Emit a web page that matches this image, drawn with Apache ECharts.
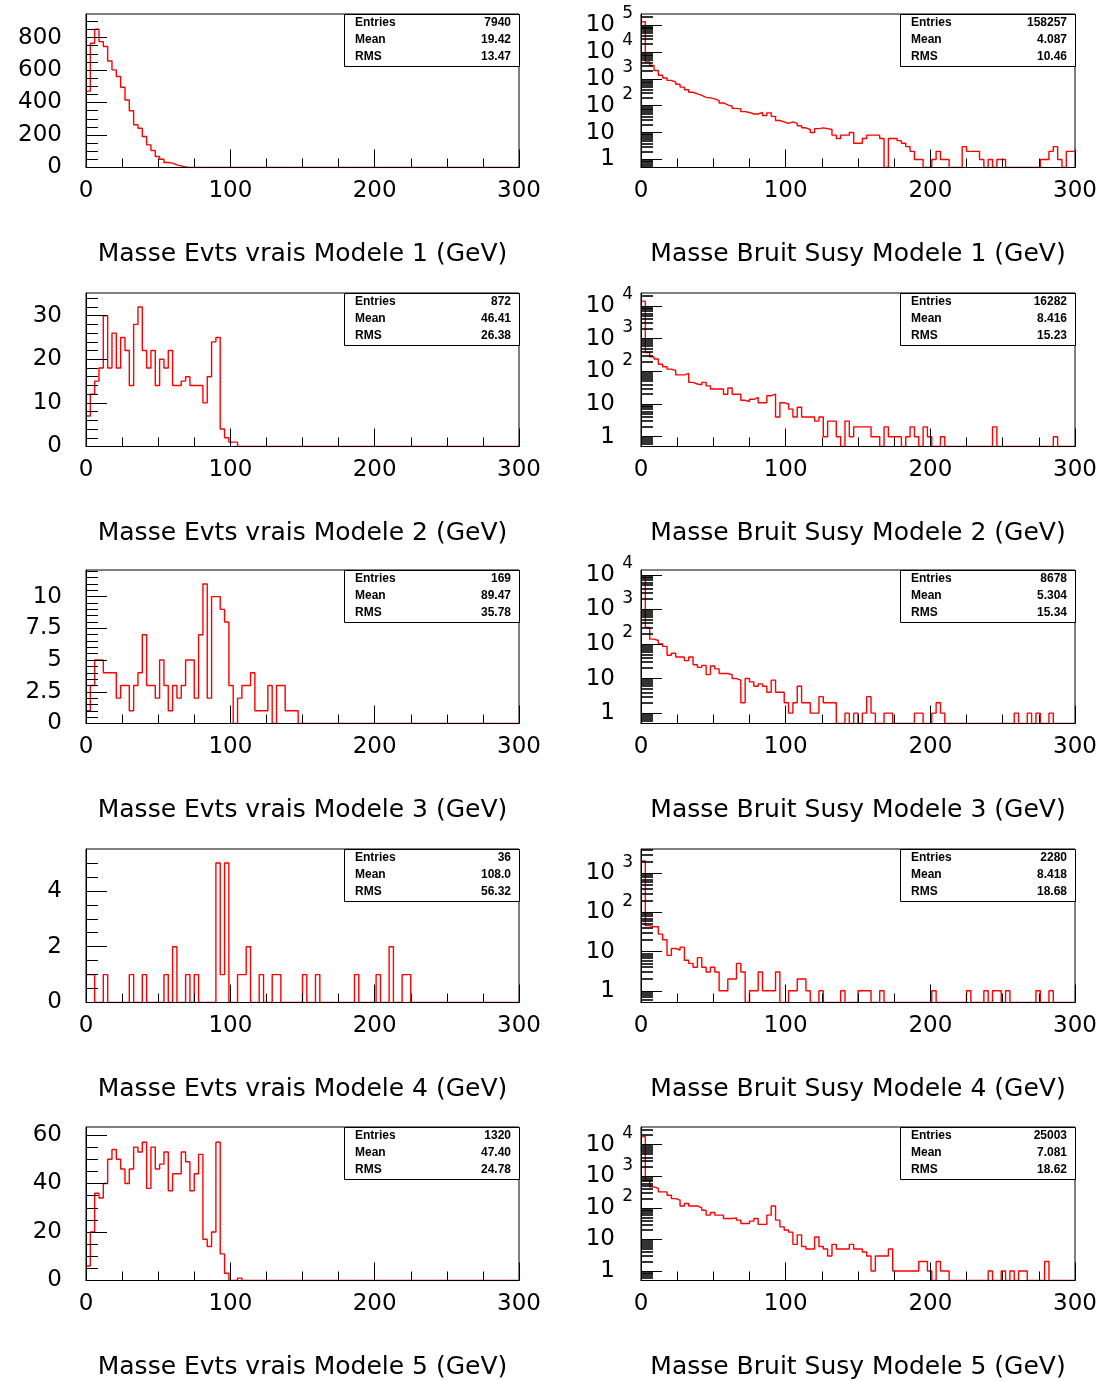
<!DOCTYPE html>
<html><head><meta charset="utf-8">
<script src="https://cdn.jsdelivr.net/npm/echarts@6/dist/echarts.min.js"></script>
<style>html,body{margin:0;padding:0;background:#fff}#c{width:1112px;height:1381px}</style>
</head><body><div id="c"></div>
<script>
// ---------------- DATA (100 bins of 3 GeV, 0..300 GeV) ----------------
const evts1 = [
 470,765,851,775,745,656,601,560,494,416,
 349,263,242,191,139,105,68,51,31,27,
 16,10,3,0,0,0,0,0,0,0,
 0,0,0,0,0,0,0,0,0,0, 0,0,0,0,0,0,0,0,0,0, 0,0,0,0,0,0,0,0,0,0,
 0,0,0,0,0,0,0,0,0,0, 0,0,0,0,0,0,0,0,0,0, 0,0,0,0,0,0,0,0,0,0, 0,0,0,0,0,0,0,0,0,0];
const evts2 = [
 7,12,15,18,30,18,26,18,25,22,
 14,28,32,22,18,22,14,20,18,22,
 14,14,15,16,14,14,14,10,16,24,
 25,4,2,1,1,0,0,0,0,0,
 0,0,0,0,0,0,0,0,0,0, 0,0,0,0,0,0,0,0,0,0, 0,0,0,0,0,0,0,0,0,0,
 0,0,0,0,0,0,0,0,0,0, 0,0,0,0,0,0,0,0,0,0, 0,0,0,0,0,0,0,0,0,0];
const evts3 = [
 1,3,5,5,4,4,4,2,3,3,
 1,3,4,7,3,3,2,5,3,1,
 3,2,3,5,5,2,7,11,2,10,
 10,9,8,3,0,2,3,3,4,1,
 1,1,3,0,3,3,1,1,1,0,
 0,0,0,0,0,0,0,0,0,0, 0,0,0,0,0,0,0,0,0,0, 0,0,0,0,0,0,0,0,0,0,
 0,0,0,0,0,0,0,0,0,0, 0,0,0,0,0,0,0,0,0,0];
const evts4 = [
 1,1,0,0,1,0,0,0,0,0,
 1,0,0,1,0,0,0,0,1,0,
 2,0,0,1,0,1,0,0,0,0,
 5,1,5,0,0,1,1,2,0,0,
 1,0,0,1,1,0,0,0,0,0,
 1,0,0,1,0,0,0,0,0,0,
 0,0,1,0,0,0,0,1,0,0,
 2,0,0,1,1,0,0,0,0,0,
 0,0,0,0,0,0,0,0,0,0, 0,0,0,0,0,0,0,0,0,0];
const evts5 = [
 6,20,36,34,40,50,54,50,46,40,
 46,55,53,57,38,55,46,48,53,37,
 44,44,53,49,37,44,52,17,14,20,
 57,11,3,0,0,1,0,0,0,0,
 0,0,0,0,0,0,0,0,0,0, 0,0,0,0,0,0,0,0,0,0, 0,0,0,0,0,0,0,0,0,0,
 0,0,0,0,0,0,0,0,0,0, 0,0,0,0,0,0,0,0,0,0, 0,0,0,0,0,0,0,0,0,0];

const bruit1 = [
 132000,4270,3160,2040,1350,1070,870,760,630,490,
 390,316,275,240,204,195,178,155,126,107,
 95,79,76,60,56,49,49,56,43,54,
 40,28,25,22,25,22,18,15,13,10,
 14,15,14,13,8,6,8,8,10,4,
 4,6,8,8,8,6,0,6,6,5,
 4,3,2,1,1,0,0,1,2,1,
 1,0,0,0,3,2,2,2,1,0,
 1,0,1,1,0,0,0,0,0,0,
 0,0,1,1,2,3,1,0,2,2];
const bruit2 = [
 14200,380,280,240,166,138,117,105,78,78,
 87,46,41,39,46,36,29,29,29,20,
 31,20,20,13,12,14,16,11,11,18,
 20,4,11,10,7,4,8,4,4,4,
 3,4,1,3,3,1,0,3,1,2,
 2,2,2,1,1,0,2,1,1,1,
 0,1,2,1,0,2,1,0,0,1,
 0,0,0,0,0,0,0,0,0,0,
 0,2,0,0,0,0,0,0,0,0,
 0,0,0,0,0,1,0,0,0,0];
const bruit3 = [
 8500,300,138,126,100,85,47,54,42,42,
 33,42,25,21,24,13,23,19,14,14,
 13,10,9,2,10,8,6,7,6,4,
 9,4,4,2,1,2,6,2,2,1,
 1,3,2,2,2,0,0,1,0,1,
 0,1,3,1,0,0,1,1,0,0,
 0,0,0,1,1,0,0,1,2,1,
 0,0,0,0,0,0,0,0,0,0,
 0,0,0,0,0,0,1,0,0,1,
 0,1,0,0,1,0,0,0,0,0];
const bruit4 = [
 2050,46,43,43,28,20,8,12,11,13,
 6,5,4,7,4,3,4,3,1,1,
 2,2,5,3,0,1,1,3,1,1,
 1,3,0,0,1,1,2,2,1,0,
 0,1,0,0,0,0,1,0,0,0,
 1,1,1,0,0,1,0,0,0,0,
 0,0,0,0,0,0,0,1,0,0,
 0,0,0,0,0,1,0,0,0,1,
 0,1,1,0,1,0,0,0,0,0,
 0,1,0,0,1,0,0,0,0,0];
const bruit5 = [
 18000,740,460,410,320,320,250,196,175,115,
 137,115,115,100,84,59,71,59,59,46,
 46,48,41,32,32,38,46,30,30,59,
 115,41,25,20,17,7,14,6,5,5,
 12,6,5,3,7,5,5,5,7,5,
 5,4,3,1,3,3,3,5,1,1,
 1,1,1,1,2,2,1,0,2,1,
 1,0,0,0,0,0,0,0,0,0,
 1,0,0,1,0,1,0,1,1,0,
 0,0,0,2,0,0,0,0,0,0];

const titlesEvts = ['Masse Evts vrais Modele 1 (GeV)','Masse Evts vrais Modele 2 (GeV)','Masse Evts vrais Modele 3 (GeV)','Masse Evts vrais Modele 4 (GeV)','Masse Evts vrais Modele 5 (GeV)'];
const titlesBruit = ['Masse Bruit Susy Modele 1 (GeV)','Masse Bruit Susy Modele 2 (GeV)','Masse Bruit Susy Modele 3 (GeV)','Masse Bruit Susy Modele 4 (GeV)','Masse Bruit Susy Modele 5 (GeV)'];
const statsEvts = [['7940','19.42','13.47'],['872','46.41','26.38'],['169','89.47','35.78'],['36','108.0','56.32'],['1320','47.40','24.78']];
const statsBruit = [['158257','4.087','10.46'],['16282','8.416','15.23'],['8678','5.304','15.34'],['2280','8.418','18.68'],['25003','7.081','18.62']];
const statNames = ['Entries','Mean','RMS'];

const xTicksMajor = [0, 100, 200, 300];
const linMajorTicks = [[0,200,400,600,800],[0,10,20,30],[0,2.5,5,7.5,10],[0,2,4],[0,20,40,60]];
const linMinorStep = [50, 2, 0.5, 0.5, 5];
const linMax = [945, 35.2, 12.1, 5.5, 63.3];
const logMax = [5.41, 4.40, 4.14, 3.62, 4.56]; // log10 of axis top
const LOG_MIN = -0.3;                          // log10(0.5)
const BIN_W = 3;

// ---------------- LAYOUT ----------------
const FONT = "'DejaVu Sans', sans-serif";
const STAT_FONT = "'Liberation Sans', sans-serif";
const COL_X = [86, 641], COL_W = [433, 434];
const ROW_TOP = [14, 293, 570, 849, 1127], PLOT_H = 153.5;

const evts = [evts1, evts2, evts3, evts4, evts5];
const bruit = [bruit1, bruit2, bruit3, bruit4, bruit5];

const grids = [], xAxes = [], yAxes = [], series = [], graphics = [], logPanels = [];

function histPoints(vals, tf) {
  const pts = vals.map((v, i) => [i * BIN_W, tf(v)]);
  pts.push([vals.length * BIN_W, tf(vals[vals.length - 1])]);
  return pts;
}
const black = { color: '#000', width: 1 };

function addPanel(col, row, title, stats, isLog, vals) {
  const gi = grids.length;
  const left = COL_X[col], width = COL_W[col], top = ROW_TOP[row];
  grids.push({ left, top, width, height: PLOT_H, show: true, borderColor: '#000', borderWidth: 1, backgroundColor: 'transparent' });
  xAxes.push({
    gridIndex: gi, type: 'value', min: 0, max: 300, interval: 100, position: 'bottom', z: 5,
    axisLine: { show: true, onZero: false, lineStyle: black },
    axisTick: { show: true, inside: true, length: 18, lineStyle: black },
    minorTick: { show: true, splitNumber: 4, length: 9, lineStyle: black },
    splitLine: { show: false },
    axisLabel: { customValues: xTicksMajor, margin: 12, fontSize: 23, fontFamily: FONT, color: '#000' },
    name: title, nameLocation: 'middle', nameGap: 74,
    nameTextStyle: { fontSize: 25, fontFamily: FONT, color: '#000' }
  });
  let min, max, majors, minors, labelCfg, minorWidth = 1;
  if (isLog) {
    min = LOG_MIN; max = logMax[row];
    majors = []; for (let k = 0; k <= Math.floor(max); k++) majors.push(k);
    minors = [];
    for (let k = -1; k <= Math.ceil(max); k++) for (let m = 2; m <= 9; m++) {
      const v = k + Math.log10(m); if (v > min && v < max) minors.push(v);
    }
    labelCfg = {
      customValues: majors, margin: 26, showMinLabel: true, showMaxLabel: true, hideOverlap: false,
      fontSize: 23, lineHeight: 14, fontFamily: FONT, color: '#000',
      formatter: v => (Math.round(v) === 0 ? '1' : '10')
    };
    minorWidth = 1.6;
    logPanels.push({ gi, left, majors });
  } else {
    min = 0; max = linMax[row]; majors = linMajorTicks[row];
    minors = []; const st = linMinorStep[row];
    for (let j = 1; j * st < max; j++) minors.push(+(j * st).toFixed(4));
    labelCfg = { customValues: majors, margin: 24, fontSize: 23, lineHeight: 16, fontFamily: FONT, color: '#000', showMinLabel: true, showMaxLabel: true, hideOverlap: false };
  }
  const yMain = yAxes.length;
  yAxes.push({
    gridIndex: gi, type: 'value', min, max, position: 'left', z: 5,
    axisLine: { show: true, onZero: false, lineStyle: black },
    axisTick: { show: true, inside: true, length: 21, customValues: majors, lineStyle: black },
    splitLine: { show: false },
    axisLabel: labelCfg
  });
  yAxes.push({
    gridIndex: gi, type: 'value', min, max, position: 'left', z: 5,
    axisLine: { show: false, onZero: false },
    axisTick: { show: true, inside: true, length: 12, customValues: minors, lineStyle: { color: '#000', width: minorWidth } },
    splitLine: { show: false },
    axisLabel: { show: false }
  });
  const tf = isLog ? (v => v > 0 ? Math.log10(v) : LOG_MIN) : (v => v);
  series.push({
    type: 'line', xAxisIndex: gi, yAxisIndex: yMain, step: 'end', symbol: 'none', showSymbol: false,
    data: histPoints(vals, tf), lineStyle: { color: '#ff0000', width: 1.4 }, z: 2, animation: false, silent: true
  });
  // statistics box
  const bw = 175, bh = 52, bx = left + width - bw, by = top;
  const children = [{ type: 'rect', shape: { x: bx + 0.5, y: by + 0.5, width: bw, height: bh }, style: { fill: '#fff', stroke: '#000', lineWidth: 1 } }];
  statNames.forEach((nm, j) => {
    children.push({ type: 'text', style: { x: bx + 11, y: by + 9 + j * 17, text: nm, font: 'bold 12px ' + STAT_FONT, fill: '#000', verticalAlign: 'middle', textVerticalAlign: 'middle' } });
    children.push({ type: 'text', style: { x: bx + bw - 8, y: by + 9 + j * 17, text: stats[j], font: 'bold 12px ' + STAT_FONT, fill: '#000', align: 'right', textAlign: 'right', verticalAlign: 'middle', textVerticalAlign: 'middle' } });
  });
  graphics.push({ type: 'group', z: 100, children });
}

for (let r = 0; r < 5; r++) {
  addPanel(0, r, titlesEvts[r], statsEvts[r], false, evts[r]);
  addPanel(1, r, titlesBruit[r], statsBruit[r], true, bruit[r]);
}

const chart = echarts.init(document.getElementById('c'), null, { renderer: 'canvas', width: 1112, height: 1381 });
chart.setOption({
  animation: false,
  backgroundColor: '#fff',
  grid: grids, xAxis: xAxes, yAxis: yAxes, series
});
// exponents of the log-axis labels (10^k), placed from the axis scale
logPanels.forEach(p => {
  p.majors.filter(k => k >= 2).forEach(k => {
    const pt = chart.convertToPixel({ gridIndex: p.gi }, [0, k]);
    graphics.push({ type: 'text', z: 50, style: { x: p.left - 8, y: pt[1] - 11, text: String(k), font: '17px ' + FONT, fill: '#000', align: 'right', textAlign: 'right', verticalAlign: 'middle', textVerticalAlign: 'middle' } });
  });
});
chart.setOption({ graphic: graphics });
</script></body></html>
